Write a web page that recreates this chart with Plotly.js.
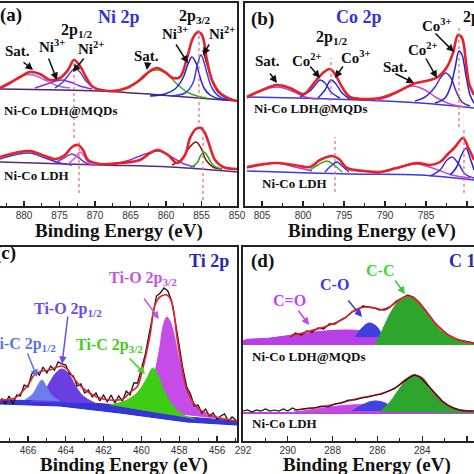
<!DOCTYPE html>
<html><head><meta charset="utf-8">
<script src="https://cdn.plot.ly/plotly-3.0.1.min.js"></script>
<style>html,body{margin:0;padding:0;background:#fff;}#chart{width:474px;height:474px;}</style>
</head><body><div id="chart"></div>
<script>
// ---------- Panel (a) Ni 2p ----------
const aUpFitE = [883.38, 881.97, 880.56, 879.15, 877.75, 876.34, 874.93, 873.80, 872.96, 872.11, 871.27, 870.28, 867.89, 865.49, 863.66, 862.25, 861.27, 860.14, 859.01, 858.03, 857.04, 856.20, 855.49, 854.93, 854.23, 853.52, 852.39, 850.99, 850.0];
const aUpFitI = [118, 123, 129, 134, 132, 126, 128, 136, 146, 140, 129, 119, 115, 118, 126, 135, 138, 134, 128, 129, 148, 168, 174, 171, 146, 126, 113, 107, 105];
const aUpSumE = [854.79, 854.08, 853.38, 852.68, 851.69, 850.70];
const aUpSumI = [156, 138, 123, 114, 109, 107];
const aUpBgE = [883.38, 869.30, 860.85, 850.0];
const aUpBgI = [117, 115, 111, 105];
const aUpNi3E = [862.25, 860.14, 858.73, 857.61, 856.90, 856.34, 855.77, 855.21, 854.65, 853.80, 852.39, 850.70];
const aUpNi3I = [110, 112, 117, 128, 142, 149, 143, 129, 118, 111, 107, 106];
const aUpNi2E = [859.44, 857.32, 856.20, 855.63, 855.07, 854.65, 854.23, 853.52, 852.39, 850.70];
const aUpNi2I = [110, 113, 123, 140, 151, 144, 133, 118, 109, 106];
const aUpSatE = [866.48, 864.37, 862.68, 861.27, 859.86, 858.45, 857.04, 855.63, 854.23];
const aUpSatI = [116, 123, 133, 136, 132, 122, 114, 110, 108];
const aUp2Ni2E = [875.63, 874.51, 873.52, 872.82, 872.11, 871.27, 870.0, 868.59];
const aUp2Ni2I = [118, 124, 133, 138, 134, 125, 118, 116];
const aUp2Ni3E = [878.45, 876.76, 875.49, 874.65, 873.52, 872.11, 870.42];
const aUp2Ni3I = [118, 122, 125, 126, 124, 120, 117];
const aUp2SatE = [883.38, 881.69, 879.86, 878.73, 877.04, 875.21, 873.52];
const aUp2SatI = [118, 125, 131, 131, 126, 120, 118];

const aLoFitE = [883.38, 881.27, 879.15, 877.04, 875.63, 874.23, 873.24, 872.39, 871.69, 870.99, 869.30, 866.48, 863.66, 862.25, 861.13, 859.72, 858.45, 857.32, 856.62, 855.77, 855.07, 854.51, 853.80, 853.10, 851.97, 850.0];
const aLoFitI = [49, 53, 55, 50, 47, 51, 59, 61, 56, 46, 42, 43, 46, 53, 56, 51, 43, 51, 68, 77, 78, 73, 59, 46, 39, 37];
const aLoBgE = [883.38, 869.30, 859.44, 850.0];
const aLoBgI = [44, 41, 39, 34];
const aLoNi3E = [859.15, 857.75, 856.76, 855.77, 855.07, 854.37, 853.38, 852.11];
const aLoNi3I = [41, 47, 58, 64, 58, 46, 39, 37];
const aLoNi2E = [856.62, 855.63, 855.07, 854.65, 854.08, 853.38, 852.11];
const aLoNi2I = [38, 43, 51, 54, 49, 41, 37];
const aLoSatE = [867.18, 865.07, 862.96, 861.13, 859.44, 857.75, 855.92];
const aLoSatI = [42, 46, 52, 55, 50, 43, 39];
const aLo2Ni3E = [875.63, 874.37, 873.24, 872.25, 871.27, 870.0];
const aLo2Ni3I = [43, 48, 52, 48, 43, 41];
const aLo2Ni2E = [873.80, 872.82, 872.11, 871.55, 870.85, 869.72];
const aLo2Ni2I = [42, 48, 54, 50, 43, 41];
const aLo2SatE = [883.38, 881.27, 879.15, 877.04, 874.93, 873.24];
const aLo2SatI = [47, 51, 53, 48, 43, 41];
const aGuideE = [872.96, 872.25, 855.35, 854.79];
const aGuideTop = [146, 66, 176, 79];
const aGuideBot = [68, 13, 83, 6];

// ---------- Panel (b) Co 2p ----------
const bUpFitE = [806.83, 805.24, 803.17, 801.59, 799.88, 798.66, 797.44, 796.71, 796.10, 795.24, 794.27, 792.56, 790.61, 788.54, 786.59, 784.51, 783.54, 782.44, 781.71, 781.10, 780.61, 780.12, 779.76, 779.15];
const bUpFitI = [109, 115, 121, 118, 112, 123, 134, 137, 132, 119, 109, 107, 108, 114, 122, 126, 129, 139, 153, 171, 168, 143, 123, 111];
const bUpBgE = [806.83, 796.71, 785.73, 779.15];
const bUpBgI = [109, 107, 103, 98];
const bUpCo3E = [783.90, 782.68, 781.95, 781.46, 780.98, 780.61, 780.12, 779.63, 779.15];
const bUpCo3I = [103, 108, 121, 138, 155, 151, 130, 111, 103];
const bUpCo2E = [786.34, 785.12, 783.90, 783.17, 782.56, 781.95, 781.34, 780.61, 779.63];
const bUpCo2I = [105, 109, 119, 129, 133, 128, 115, 104, 100];
const bUpSatE = [791.22, 789.39, 787.80, 786.59, 785.12, 783.66, 782.07, 780.24];
const bUpSatI = [105, 110, 117, 120, 116, 108, 102, 99];
const bUp2Co2E = [800.37, 799.15, 798.41, 797.93, 797.32, 796.59, 795.49];
const bUp2Co2I = [109, 115, 122, 126, 123, 114, 108];
const bUp2Co3E = [798.17, 797.32, 796.59, 795.98, 795.24, 794.27];
const bUp2Co3I = [108, 116, 126, 122, 113, 107];
const bUp2SatE = [806.83, 805.24, 803.17, 801.34, 799.76, 798.17];
const bUp2SatI = [108, 115, 119, 115, 109, 107];

const bLoFitE = [806.83, 804.76, 803.17, 801.10, 799.15, 797.93, 796.46, 795.61, 794.63, 792.56, 790.61, 788.54, 786.10, 784.51, 783.29, 782.44, 781.46, 780.49, 779.88, 779.15];
const bLoFitI = [39, 42, 43, 41, 39, 46, 50, 47, 38, 35, 34, 38, 43, 41, 44, 51, 59, 68, 59, 46];
const bLoBgE = [806.83, 794.27, 785.73, 779.15];
const bLoBgI = [35, 32, 31, 26];
const bLoCo3E = [782.07, 781.34, 780.73, 780.12, 779.63, 779.15];
const bLoCo3I = [31, 38, 50, 58, 48, 36];
const bLoCo2E = [784.51, 783.29, 782.44, 781.83, 781.10, 780.24, 779.15];
const bLoCo2I = [30, 36, 46, 49, 43, 32, 28];
const bLoSatE = [791.22, 788.78, 786.10, 783.90, 781.83, 779.63];
const bLoSatI = [32, 38, 42, 37, 31, 28];
const bLo2GrE = [799.15, 798.17, 797.07, 796.22, 795.24];
const bLo2GrI = [36, 41, 45, 41, 34];
const bLo2BlE = [797.32, 796.59, 795.85, 795.24, 794.39];
const bLo2BlI = [34, 40, 44, 40, 34];
const bLo2SatE = [806.83, 805.0, 803.17, 800.98, 798.90];
const bLo2SatI = [38, 41, 43, 39, 35];
const bGuideE = [796.59, 796.10, 780.98, 780.37];
const bGuideTop = [148, 69, 178, 78];
const bGuideBot = [93, 14, 79, 13];

// ---------- Panel (c) Ti 2p ----------
const cDataE = [467.4, 467.2, 467.0, 466.8, 466.6, 466.4, 466.2, 466.0, 465.8, 465.6, 465.4, 465.2, 465.0, 464.8, 464.6, 464.4, 464.2, 464.0, 463.8, 463.6, 463.4, 463.2, 463.0, 462.8, 462.6, 462.4, 462.2, 462.0, 461.8, 461.6, 461.4, 461.2, 461.0, 460.8, 460.6, 460.4, 460.2, 460.0, 459.8, 459.6, 459.4, 459.2, 459.0, 458.8, 458.6, 458.4, 458.2, 458.0, 457.8, 457.6, 457.4, 457.2, 457.0, 456.8, 456.6, 456.4, 456.2, 456.0, 455.8, 455.6, 455.4, 455.2, 455.0];
const cDataI = [43, 37, 45, 37, 46, 45, 56, 54, 67, 70, 66, 74, 68, 75, 71, 79, 77, 76, 67, 65, 55, 57, 48, 51, 44, 48, 40, 46, 39, 46, 38, 45, 40, 50, 46, 58, 58, 72, 86, 106, 125, 145, 148, 153, 150, 140, 119, 96, 72, 54, 47, 35, 36, 28, 32, 25, 28, 22, 25, 27, 20, 24, 21];
const cFitE = [467.48, 466.69, 466.0, 465.63, 465.26, 464.84, 464.47, 464.20, 463.88, 463.51, 462.98, 462.35, 461.66, 460.97, 460.60, 460.23, 459.92, 459.54, 459.28, 459.02, 458.65, 458.38, 458.12, 457.85, 457.59, 457.06, 456.37, 455.31, 454.94];
const cFitI = [41, 43, 56, 67, 70, 71, 74, 75, 71, 61, 51, 44, 41, 42, 49, 54, 73, 106, 136, 144, 146, 138, 104, 73, 51, 34, 26, 21, 20];
const cBgE = [467.48, 464.31, 461.13, 457.59, 454.94];
const cBgTopI = [41, 40, 36, 24, 20];
const cBgBotI = [37, 35, 28, 19, 16];
const cTiC12E = [466.16, 465.74, 465.47, 465.26, 465.05, 464.73, 464.31];
const cTiC12I = [41, 47, 56, 61, 55, 45, 40];
const cTiO12E = [465.89, 465.26, 464.84, 464.52, 464.20, 463.88, 463.51, 463.09, 462.46];
const cTiO12I = [39, 46, 59, 68, 72, 68, 56, 45, 38];
const cTiC32E = [461.66, 460.87, 460.23, 459.76, 459.39, 459.07, 458.70, 458.22, 457.69, 457.16];
const cTiC32I = [36, 40, 48, 61, 73, 63, 46, 33, 25, 22];
const cTiO32E = [460.07, 459.54, 459.28, 459.02, 458.86, 458.65, 458.49, 458.33, 457.96, 457.59, 457.27, 456.74, 456.0, 455.31];
const cTiO32I = [31, 51, 69, 94, 114, 124, 120, 111, 78, 54, 38, 28, 23, 21];

// ---------- Panel (d) C 1s ----------
const dUpDataE = [289.9, 289.65, 289.4, 289.15, 288.9, 288.65, 288.4, 288.15, 287.9, 287.65, 287.4, 287.15, 286.9, 286.65, 286.4, 286.15, 285.9, 285.65, 285.4, 285.15, 284.9, 284.65, 284.4, 284.15, 283.9, 283.65, 283.4, 283.15, 282.9, 282.65, 282.4, 282.15, 281.9, 281.7];
const dUpDataI = [104, 108, 106, 110, 109, 113, 112, 117, 117, 121, 124, 129, 131, 135, 134, 133, 131, 132, 135, 140, 143, 146, 144, 139, 132, 125, 117, 112, 107, 104, 101, 100, 99, 98];
const dUpFitE = [289.90, 289.01, 288.12, 287.45, 287.0, 286.55, 286.11, 285.66, 285.21, 284.68, 284.32, 283.88, 283.34, 282.76, 282.22, 281.69];
const dUpFitI = [105, 110, 116, 123, 131, 134, 133, 131, 138, 145, 142, 131, 116, 105, 100, 98];
const dUpCOdE = [292.0, 292.0, 290.79, 289.46, 288.34, 287.49, 286.55, 285.66, 284.77, 283.88, 282.98, 282.98];
const dUpCOdI = [96, 100, 103, 107, 110, 111, 110, 106, 101, 98, 97, 96];
const dUpCOE = [287.0, 286.69, 286.38, 286.06, 285.75];
const dUpCOI = [104, 113, 118, 115, 104];
const dUpCCE = [286.11, 285.84, 285.44, 285.08, 284.68, 284.32, 283.92, 283.34, 282.58, 281.69, 281.69];
const dUpCCI = [96, 108, 127, 139, 144, 141, 131, 114, 102, 97, 96];
const dUpBaseE = [292.0, 281.69];
const dUpBaseI = [97, 97];

const dLoDataE = [292.0, 291.8, 291.6, 291.4, 291.2, 291.0, 290.8, 290.6, 290.4, 290.2, 290.0, 289.8, 289.6, 289.4, 289.1, 288.8, 288.5, 288.2, 287.9, 287.6, 287.3, 287.0, 286.7, 286.4, 286.1, 285.8, 285.5, 285.2, 284.9, 284.6, 284.35, 284.1, 283.85, 283.6, 283.35, 283.1, 282.85, 282.6, 282.35, 282.1, 281.85, 281.7];
const dLoDataI = [30, 31, 29, 31, 30, 32, 30, 31, 30, 32, 30, 33, 31, 32, 33, 33, 35, 34, 37, 38, 41, 41, 43, 44, 46, 47, 50, 53, 58, 63, 66, 64, 58, 52, 46, 40, 36, 33, 31, 30, 30, 30];
const dLoFitE = [289.72, 288.56, 287.67, 286.78, 285.88, 285.21, 284.77, 284.37, 284.01, 283.65, 283.21, 282.54, 281.69];
const dLoFitI = [31, 34, 38, 43, 47, 53, 61, 66, 63, 53, 41, 32, 30];
const dLoCOdE = [289.72, 289.01, 288.12, 287.22, 286.33, 285.44, 284.54];
const dLoCOdI = [29, 31, 34, 36, 36, 33, 29];
const dLoCOE = [287.13, 286.69, 286.15, 285.66, 285.21];
const dLoCOI = [30, 36, 40, 38, 30];
const dLoCCE = [285.88, 285.44, 285.0, 284.63, 284.37, 284.05, 283.65, 283.12, 282.40, 281.69, 281.69];
const dLoCCI = [29, 39, 53, 63, 66, 62, 51, 39, 32, 29, 28];
const dLoBaseE = [292.0, 281.69];
const dLoBaseI = [28, 28];

// ---------- drawing ----------
const W = 474, H = 474;
const SERIF = 'Liberation Serif, Times New Roman, serif';
const RED = '#e8202a', BLK = '#151515';
const P = px => px / W, Q = py => 1 - py / H;
const traces = [];
function ax(n) { return n === 1 ? '' : String(n); }
function ln(n, xs, ys, color, width, extra, shape) {
  traces.push(Object.assign({
    type: 'scatter', mode: 'lines', x: xs, y: ys, xaxis: 'x' + ax(n), yaxis: 'y' + ax(n),
    line: { color: color, width: width, shape: shape || 'spline', smoothing: 1 },
    hoverinfo: 'skip', showlegend: false
  }, extra || {}));
}
function pk(n, xs, ys, color) { ln(n, xs, ys, color, 1, { fill: 'toself', fillcolor: color }); }
function guides(n, es, tops, bots) {
  es.forEach((e, i) => traces.push({ type: 'scatter', mode: 'lines', x: [e, e], y: [bots[i], tops[i]],
    xaxis: 'x' + ax(n), yaxis: 'y' + ax(n), line: { color: '#e8677a', width: 1.2, dash: 'dot' },
    hoverinfo: 'skip', showlegend: false }));
}

// panel a
ln(1, aUpBgE, aUpBgI, '#4a2a6a', 1.5);
ln(1, aUpSatE, aUpSatI, '#44aa22', 1.5);
ln(1, aUpNi3E, aUpNi3I, '#2323c8', 1.5);
ln(1, aUpNi2E, aUpNi2I, '#3c3ce6', 1.5);
ln(1, aUp2SatE, aUp2SatI, '#b060ee', 1.5);
ln(1, aUp2Ni3E, aUp2Ni3I, '#8a2be2', 1.5);
ln(1, aUp2Ni2E, aUp2Ni2I, '#4646cc', 1.5);
ln(1, aUpSumE, aUpSumI, BLK, 1.3);
ln(1, aUpFitE, aUpFitI, RED, 2.6);
ln(1, aLoBgE, aLoBgI, '#5a2a7a', 1.5);
ln(1, aLo2SatE, aLo2SatI, '#4a38d0', 1.5);
ln(1, aLo2Ni3E, aLo2Ni3I, '#7040d8', 1.5);
ln(1, aLo2Ni2E, aLo2Ni2I, '#dd55dd', 1.5);
ln(1, aLoSatE, aLoSatI, '#8040d8', 1.5);
ln(1, aLoNi3E, aLoNi3I, '#7a1a1a', 1.5);
ln(1, aLoNi2E, aLoNi2I, '#22aa22', 1.5);
ln(1, aLoFitE, aLoFitI, RED, 2.6);
guides(1, aGuideE, aGuideTop, aGuideBot);

// panel b
ln(2, bUpBgE, bUpBgI, '#3a3ae0', 1.5);
ln(2, bUp2SatE, bUp2SatI, '#b040c8', 1.5);
ln(2, bUp2Co2E, bUp2Co2I, '#3030d8', 1.5);
ln(2, bUp2Co3E, bUp2Co3I, '#2a2ad0', 1.5);
ln(2, bUpSatE, bUpSatI, '#cc44cc', 1.5);
ln(2, bUpCo2E, bUpCo2I, '#4a2ad0', 1.5);
ln(2, bUpCo3E, bUpCo3I, '#2020d8', 1.5);
ln(2, bUpFitE, bUpFitI, RED, 2.6);
ln(2, bLoBgE, bLoBgI, '#3a3ae0', 1.5);
ln(2, bLo2SatE, bLo2SatI, '#b040c8', 1.5);
ln(2, bLo2GrE, bLo2GrI, '#33aa33', 1.5);
ln(2, bLo2BlE, bLo2BlI, '#3333dd', 1.5);
ln(2, bLoSatE, bLoSatI, '#cc44cc', 1.5);
ln(2, bLoCo2E, bLoCo2I, '#4a2ad0', 1.5);
ln(2, bLoCo3E, bLoCo3I, '#2020d8', 1.5);
ln(2, bLoFitE, bLoFitI, RED, 2.6);
guides(2, bGuideE, bGuideTop, bGuideBot);

// panel c
ln(3, cBgE, cBgBotI, '#2a2ad0', 1, null, 'linear');
ln(3, cBgE, cBgTopI, '#2a2ad0', 1, { fill: 'tonexty', fillcolor: '#3535d8' }, 'linear');
pk(3, cTiO12E, cTiO12I, '#6a40e4');
pk(3, cTiC12E, cTiC12I, '#6a7ef0');
pk(3, cTiO32E, cTiO32I, '#c64ce8');
pk(3, cTiC32E, cTiC32I, '#3fcc14');
ln(3, cDataE, cDataI, BLK, 1.3, null, 'linear');
ln(3, cFitE, cFitI, RED, 1.6);

// panel d
ln(4, dUpBaseE, dUpBaseI, '#2a9a3a', 1.5, null, 'linear');
pk(4, dUpCOdE, dUpCOdI, '#b83ee6');
pk(4, dUpCOE, dUpCOI, '#4040e0');
pk(4, dUpCCE, dUpCCI, '#2ea62e');
ln(4, dUpDataE, dUpDataI, BLK, 1.3, null, 'linear');
ln(4, dUpFitE, dUpFitI, RED, 1.6);
ln(4, dLoBaseE, dLoBaseI, '#c040e0', 2, null, 'linear');
pk(4, dLoCOdE, dLoCOdI, '#c44ae8');
pk(4, dLoCOE, dLoCOI, '#4242e0');
pk(4, dLoCCE, dLoCCI, '#2ea62e');
ln(4, dLoFitE, dLoFitI, RED, 1.6);
ln(4, dLoDataE, dLoDataI, BLK, 1.2, null, 'linear');

function xax(domain, range, dtick, minor, anchor) {
  return { domain: domain, range: range, anchor: anchor, showline: true, mirror: true, linecolor: '#222', linewidth: 2,
    ticks: 'inside', ticklen: 5, tickwidth: 1.2, tickcolor: '#222', tick0: 0, dtick: dtick, ticklabelstandoff: -1,
    minor: { ticks: 'inside', ticklen: 3, tickwidth: 1, tickcolor: '#222', dtick: minor, tick0: 0 },
    showgrid: false, zeroline: false, fixedrange: true,
    tickfont: { family: 'Liberation Sans, Arial, sans-serif', size: 10, color: '#333' } };
}
function yax(domain, range, side, anchor) {
  return { domain: domain, range: range, anchor: anchor, side: side, showline: true, linecolor: '#222', linewidth: 2,
    ticks: '', showticklabels: false, showgrid: false, zeroline: false, fixedrange: true };
}
const yTop = [Q(206), Q(3)], yBot = [Q(441), Q(247)];

const anns = [];
function T(text, px, py, size, color, anchor) {
  anns.push({ xref: 'paper', yref: 'paper', x: P(px), y: Q(py), xanchor: anchor || 'center', yanchor: 'middle',
    text: '<b>' + text + '</b>', showarrow: false, font: { family: SERIF, size: size, color: color || '#111' } });
}
function A(n, e, i, dx, dy, color) {
  anns.push({ xref: 'x' + ax(n), yref: 'y' + ax(n), x: e, y: i, ax: dx, ay: dy, text: '', showarrow: true,
    arrowhead: 2, arrowsize: 1, arrowwidth: 1.5, arrowcolor: color || '#111' });
}
const BLUE = '#3434d2', BLUE2 = '#2a2ab8';
const TITLE = 'Binding Energy (eV)';
// panel a
T('(a)', 11, 15, 19); T('Ni 2p', 119, 17, 18, BLUE);
T('2p<sub>1/2</sub>', 77, 30, 16); T('Ni<sup>3+</sup>', 52, 46, 15); T('Ni<sup>2+</sup>', 91, 48, 15);
T('Sat.', 17, 51, 15); T('Sat.', 146, 56, 15); T('2p<sub>3/2</sub>', 195, 16, 16);
T('Ni<sup>3+</sup>', 175, 33, 15); T('Ni<sup>2+</sup>', 222, 33, 15);
T('Ni-Co LDH@MQDs', 2, 110, 13, '#111', 'left'); T('Ni-Co LDH', 2, 175, 13, '#111', 'left');
T(TITLE, 119, 231, 19);
A(1, 878.73, 136, -11, -9); A(1, 875.35, 126, -9, -23); A(1, 873.10, 134, 12, -15);
A(1, 862.68, 136, 1, -9); A(1, 856.90, 143, -13, -20); A(1, 854.79, 151, 7, -12);
// panel b
T('(b)', 262, 19, 19); T('Co 2p', 359, 17, 18, BLUE);
T('2p<sub>1/2</sub>', 332, 37, 16); T('Sat.', 267, 61, 15); T('Co<sup>2+</sup>', 307, 60, 15);
T('Co<sup>3+</sup>', 356, 57, 15); T('Sat.', 395, 67, 15); T('Co<sup>2+</sup>', 423, 49, 15);
T('Co<sup>3+</sup>', 437, 25, 15); T('2p<sub>3/2</sub>', 461, 17, 16, '#111', 'left');
T('Ni-Co LDH@MQDs', 252, 108, 13, '#111', 'left'); T('Ni-Co LDH', 260, 183, 13, '#111', 'left');
T(TITLE, 372, 231, 19);
A(2, 803.17, 123, -8, -11); A(2, 797.93, 128, -11, -13); A(2, 796.10, 128, 9, -13);
A(2, 786.46, 123, -20, -10); A(2, 783.66, 128, -12, -21); A(2, 781.59, 154, -20, -20);
// panel c
T('(c)', -7, 253, 19, '#111', 'left'); T('Ti 2p', 209, 261, 18, BLUE2);
T('Ti-O 2p<sub>3/2</sub>', 143, 278, 16, '#c455e8'); T('Ti-O 2p<sub>1/2</sub>', 68, 309, 16, '#6a4ee2');
T('Ti-C 2p<sub>1/2</sub>', 58, 344, 16, '#5f70e8', 'right'); T('Ti-C 2p<sub>3/2</sub>', 109, 345, 16, '#44cc22');
T(TITLE, 124, 465, 19);
A(3, 459.07, 122, -16, -22, '#c455e8'); A(3, 464.20, 77, 6, -49, '#6a4ee2');
A(3, 465.52, 64, -10, -25, '#5f70e8'); A(3, 459.81, 67, -17, -17, '#44cc22');
// panel d
T('(d)', 262, 261, 19); T('C 1s', 447, 261, 18, BLUE2, 'left');
T('C-C', 380, 270, 16, '#33dd33'); T('C-O', 334, 284, 16, '#3a3ad8'); T('C=O', 289, 300, 16, '#c444ee');
T('Ni-Co LDH@MQDs', 250, 356, 13, '#111', 'left'); T('Ni-Co LDH', 250, 423, 13, '#111', 'left');
T(TITLE, 367, 465, 19);
A(4, 284.77, 147, -11, -15, '#33cc33'); A(4, 286.69, 124, -15, -18, '#3a3ad8'); A(4, 289.05, 116, -12, -16, '#c444ee');

const layout = {
  width: W, height: H, margin: { l: 0, r: 0, t: 0, b: 0 }, paper_bgcolor: '#fff', plot_bgcolor: '#fff',
  showlegend: false,
  xaxis: xax([0, P(237)], [883.38, 850], 5, 2.5, 'y'),
  yaxis: yax(yTop, [0, 203], 'right', 'x'),
  xaxis2: xax([P(245), 1], [807.07, 779.15], 5, 2.5, 'y2'),
  yaxis2: yax(yTop, [0, 203], 'left', 'x2'),
  xaxis3: xax([0, P(237)], [467.48, 454.94], 2, 1, 'y3'),
  yaxis3: yax(yBot, [0, 194], 'right', 'x3'),
  xaxis4: xax([P(243), 1], [292, 281.69], 2, 1, 'y4'),
  yaxis4: yax(yBot, [0, 194], 'left', 'x4'),
  annotations: anns
};
Plotly.newPlot('chart', traces, layout, { displayModeBar: false, staticPlot: true });
</script></body></html>
